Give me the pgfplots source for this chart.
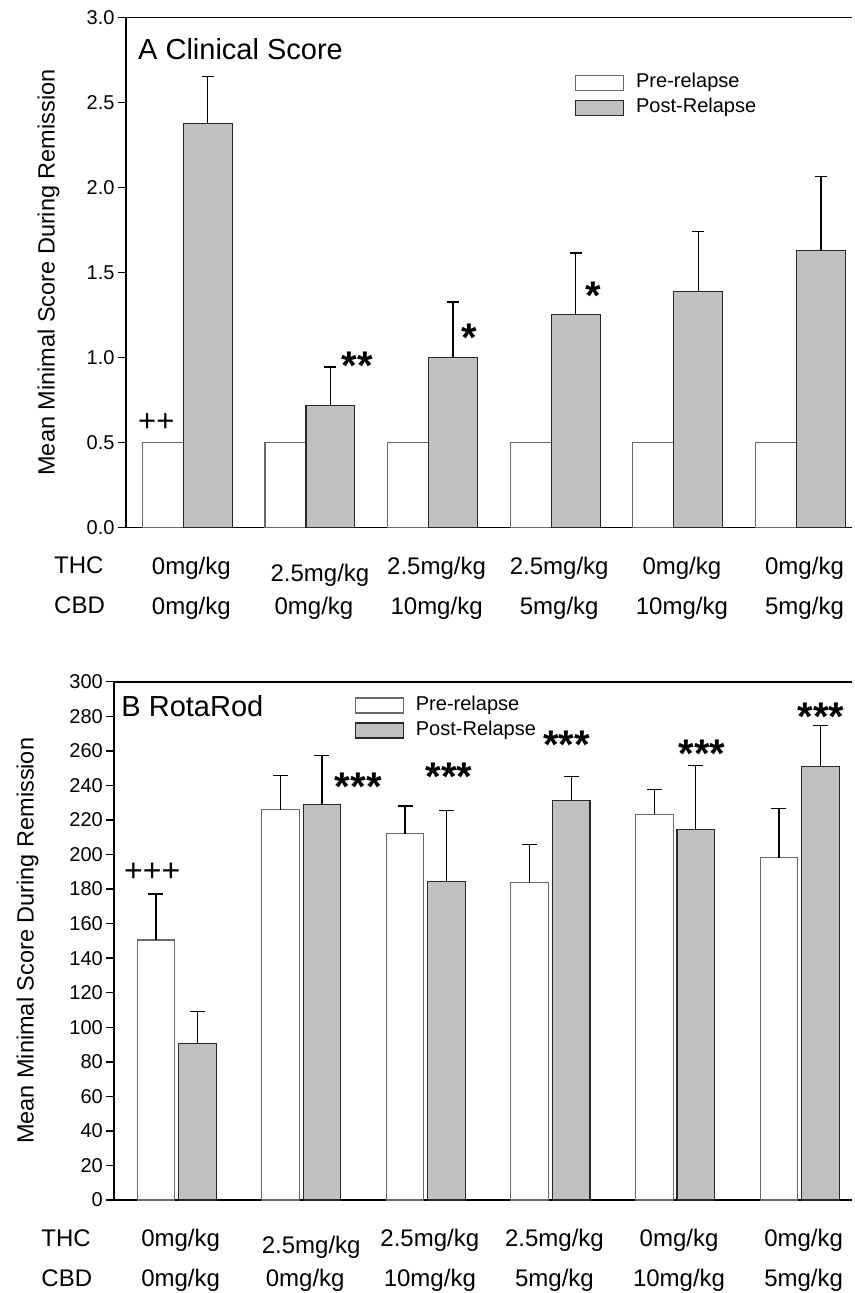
\documentclass[border=0pt]{standalone}
\usepackage{fontspec}
\setmainfont{Liberation Sans}
\usepackage{pgfplots}
\pgfplotsset{compat=1.18}

\definecolor{postfill}{RGB}{192,192,192}
\definecolor{preline}{RGB}{105,105,105}
\definecolor{postline}{RGB}{40,40,40}
\newcommand{\fs}[2]{\fontsize{#1}{#2}\selectfont}

\tikzset{sigstar/.style={anchor=base, inner sep=0pt, font=\fs{40}{40}\bfseries}}

\pgfplotsset{
  panel/.style={
    scale only axis, anchor=north west, clip=false,
    axis lines*=left, axis line style={-, line width=1.8pt, black},
    xmin=-0.5, xmax=5.42, ymin=0,
    xtick={0,1,2,3,4,5},
    xticklabels={{0mg/kg\\0mg/kg},
                 {\hspace*{12pt}\raisebox{-7pt}[\height][\depth]{2.5mg/kg}\\0mg/kg},
                 {2.5mg/kg\\10mg/kg},
                 {2.5mg/kg\\5mg/kg},
                 {0mg/kg\\10mg/kg},
                 {0mg/kg\\5mg/kg}},
    x tick style={draw=none},
    tick align=outside, major tick length=8pt,
    y tick style={line width=1.4pt, black},
    xticklabel style={font=\fs{24}{40}, align=center, anchor=north, inner sep=0pt, yshift=-21pt, xshift=4pt},
    yticklabel style={font=\fs{20}{20}},
    /pgf/number format/assume math mode=true,
    ylabel={Mean Minimal Score During Remission},
    ylabel style={font=\fs{23.5}{23.5}, anchor=north, inner sep=0pt},
    legend image code/.code={\draw[#1] (0pt,-7.5pt) rectangle (48pt,7.5pt);},
    legend cell align=left,
    legend style={anchor=north west, draw=none, fill=none, inner sep=0pt, outer sep=0pt,
      row sep=6pt, font=\fs{20}{20},
      nodes={inner sep=0pt, text height=14.5pt, text depth=4.5pt},
      /tikz/every odd column/.append style={column sep=12pt}},
  },
  prebar/.style={ybar, fill=white, draw=preline, line width=1.1pt},
  postbar/.style={ybar, fill=postfill, draw=postline, line width=1.1pt},
  errA/.style={forget plot, draw=none, mark=none,
    error bars/.cd, y dir=plus, y explicit, error mark=-,
    error bar style={draw=black, line width=1.3pt},
    error mark options={rotate=90, draw=black, line width=1.3pt, mark size=#1}},
}

\begin{document}
\begin{tikzpicture}
\useasboundingbox (0,0) rectangle (854pt,-1293pt);

% ---------------- Panel A ----------------
\begin{axis}[panel, at={(126pt,-17.5pt)}, width=726pt, height=510pt,
  ymax=3, ytick={0,0.5,...,3},
  yticklabel style={/pgf/number format/.cd, fixed, fixed zerofill, precision=1},
  ylabel style={at={(axis description cs:-0.1219,0.5)}},
  legend style={at={(0.6185,0.891)}}]
\addplot[prebar, bar width=0.334, bar shift=-0.1996]
  table[x=x, y=y] {
x y
0 0.5
1 0.5
2 0.5
3 0.5
4 0.5
5 0.5
};
\addplot[postbar, bar width=0.3992, bar shift=0.167]
  table[x=x, y=y] {
x y
0 2.375
1 0.720
2 1.000
3 1.252
4 1.390
5 1.627
};
\legend{Pre-relapse, Post-Relapse}
% error bars of the post-relapse bars (x = bar centres)
\addplot[errA=6pt] table[x=x, y=y, y error=e] {
x y e
0.167 2.375 0.280
1.167 0.720 0.225
2.167 1.000 0.327
3.167 1.252 0.362
4.167 1.390 0.350
5.167 1.627 0.437
};
\draw[line width=1.8pt] (rel axis cs:0,1) -- (rel axis cs:1,1);
\node[anchor=base west, inner sep=0pt, font=\fs{29}{29}, xshift=12pt, yshift=-41.8pt] at (rel axis cs:0,1) {A Clinical Score};
\node[anchor=north west, inner sep=0pt, align=left, font=\fs{24}{40}, xshift=-72pt, yshift=-29pt] at (rel axis cs:0,0) {THC\\CBD};
\node[anchor=base, inner sep=0pt, font=\fs{31}{31}] at (axis cs:-0.2526,0.565) {++};
\node[sigstar] at (axis cs:1.385,0.872) {**};
\node[sigstar] at (axis cs:2.2975,1.037) {*};
\node[sigstar] at (axis cs:3.308,1.284) {*};
\end{axis}

% ---------------- Panel B ----------------
\begin{axis}[panel, at={(114.3pt,-681.7pt)}, width=737.7pt, height=518.3pt,
  ymax=300, ytick={0,20,...,300},
  ylabel style={at={(axis description cs:-0.1328,0.5)}},
  legend style={at={(0.326,0.9724)}}]
\addplot[prebar, bar width=0.3016, bar shift=-0.1664]
  table[x=x, y=y] {
x y
0 150.5
1 225.9
2 212.1
3 183.9
4 223.2
5 198.1
};
\addplot[postbar, bar width=0.3016, bar shift=0.1664]
  table[x=x, y=y] {
x y
0 90.5
1 228.8
2 184.3
3 231.5
4 214.3
5 251.0
};
\legend{Pre-relapse, Post-Relapse}
% error bars (x = bar centres)
\addplot[errA=7.5pt] table[x=x, y=y, y error=e] {
x y e
-0.1664 150.5 26.6
0.8336 225.9 20.0
1.8336 212.1 15.9
2.8336 183.9 21.8
3.8336 223.2 14.3
4.8336 198.1 28.4
};
\addplot[errA=7.5pt] table[x=x, y=y, y error=e] {
x y e
0.1664 90.5 18.5
1.1664 228.8 28.4
2.1664 184.3 41.0
3.1664 231.5 13.5
4.1664 214.3 37.0
5.1664 251.0 23.5
};
\draw[line width=1.8pt] (rel axis cs:0,1) -- (rel axis cs:1,1);
\node[anchor=base west, inner sep=0pt, font=\fs{29}{29}, xshift=7pt, yshift=-34.3pt] at (rel axis cs:0,1) {B RotaRod};
\node[anchor=north west, inner sep=0pt, align=left, font=\fs{24}{40}, xshift=-73pt, yshift=-30pt] at (rel axis cs:0,0) {THC\\CBD};
\node[anchor=base, inner sep=0pt, font=\fs{32}{32}] at (axis cs:-0.196,184.6) {+++};
\node[sigstar] at (axis cs:1.4576,231.5) {***};
\node[sigstar] at (axis cs:2.1856,237.3) {***};
\node[sigstar] at (axis cs:3.1296,255.8) {***};
\node[sigstar] at (axis cs:4.2176,250.6) {***};
\node[sigstar] at (axis cs:5.1696,271.6) {***};
\end{axis}
\end{tikzpicture}
\end{document}
